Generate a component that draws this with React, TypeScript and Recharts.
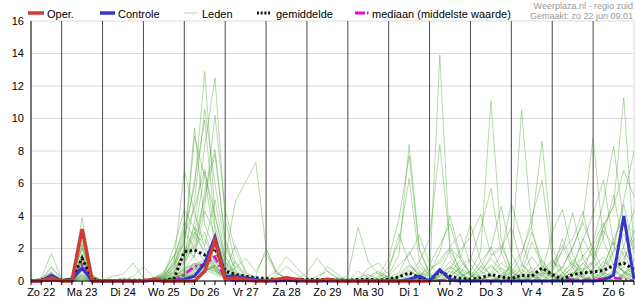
import { ComposedChart, Line, XAxis, YAxis, CartesianGrid, ReferenceLine } from 'recharts';

// x = step index, one step = 6 hours, step 0 = Zo 22 06:00
const dayLabels = ['Zo 22', 'Ma 23', 'Di 24', 'Wo 25', 'Do 26', 'Vr 27', 'Za 28', 'Zo 29', 'Ma 30', 'Di 1', 'Wo 2', 'Do 3', 'Vr 4', 'Za 5', 'Zo 6'];
const noonSteps = [1, 5, 9, 13, 17, 21, 25, 29, 33, 37, 41, 45, 49, 53, 57];
const dayStarts = [3, 7, 11, 15, 19, 23, 27, 31, 35, 39, 43, 47, 51, 55];
const allSteps = [0, 1, 2, 3, 4, 5, 6, 7, 8, 9, 10, 11, 12, 13, 14, 15, 16, 17, 18, 19, 20, 21, 22, 23, 24, 25, 26, 27, 28, 29, 30, 31, 32, 33, 34, 35, 36, 37, 38, 39, 40, 41, 42, 43, 44, 45, 46, 47, 48, 49, 50, 51, 52, 53, 54, 55, 56, 57, 58, 59];
const yTicks = [0, 2, 4, 6, 8, 10, 12, 14, 16];

// mm per 6h; groups: Zo22(3) | Ma23 | Di24 | Wo25 | Do26 | Vr27 | Za28 | Zo29 | Ma30 | Di1 | Wo2 | Do3 | Vr4 | Za5 | Zo6 | end
const oper = [0, 0, 0.2, 0, 0, 3.2, 0, 0, 0, 0, 0, 0, 0.1, 0, 0, 0, 0, 0.6, 2.5, 0.1, 0.2, 0.1, 0, 0, 0.1, 0.2, 0.1, 0, 0, 0.1, 0, 0, 0, 0, 0, 0, 0, 0, 0, 0];
const control = [0, 0, 0.35, 0, 0.1, 0.8, 0, 0, 0, 0, 0, 0, 0.05, 0, 0, 0.1, 0.3, 1.1, 2.7, 0.3, 0.3, 0.2, 0.1, 0, 0, 0.1, 0, 0, 0, 0, 0, 0, 0, 0, 0, 0, 0, 0.1, 0.3, 0, 0.7, 0.1, 0, 0, 0, 0, 0, 0, 0, 0, 0, 0, 0, 0, 0, 0, 0.05, 0.35, 4.0, 0.1];
const mean = [0, 0.05, 0.25, 0.05, 0.1, 1.4, 0.1, 0, 0, 0.05, 0.05, 0.05, 0.05, 0.05, 0.15, 1.8, 1.9, 1.6, 2.0, 0.6, 0.4, 0.3, 0.2, 0.15, 0.1, 0.1, 0.1, 0.1, 0.1, 0.1, 0.05, 0.05, 0.1, 0.1, 0.05, 0.1, 0.25, 0.5, 0.2, 0.05, 0.6, 0.3, 0.15, 0.1, 0.2, 0.4, 0.25, 0.15, 0.35, 0.3, 0.8, 0.4, 0.1, 0.4, 0.5, 0.55, 0.65, 0.95, 1.1, 0.7];
const median = [0, 0, 0.1, 0, 0, 1.0, 0, 0, 0, 0, 0, 0, 0, 0, 0, 0.4, 0.9, 1.0, 1.5, 0.1, 0, 0, 0, 0, 0, 0, 0, 0, 0, 0, 0, 0, 0, 0, 0, 0, 0, 0, 0, 0, 0.05, 0, 0, 0, 0, 0, 0, 0, 0, 0, 0, 0, 0.1, 0.1, 0.05, 0.1, 0.15, 0.2, 0.1, 0];

const m01 = [0, 0.2, 1.7, 0.1, 0.2, 3.9, 0.3, 0, 0, 0, 0, 0, 0.1, 0.6, 1.5, 3.2, 5.8, 12.9, 4.1, 1.2, 0.4, 0.1, 0, 0, 0.1, 0, 0, 0, 0, 0.2, 0, 0, 0, 0, 0.1, 0.2, 0.5, 1.8, 0.6, 0.3, 13.9, 1.6, 0.4, 0.2, 0.8, 2.1, 0.7, 0.2, 0.1, 0.5, 1.3, 0.4, 0.2, 0.9, 2.6, 1.4, 3.1, 2.2, 4.7, 1.9];
const m02 = [0, 0.1, 0.9, 0, 0.3, 2.5, 0.2, 0, 0, 0, 0, 0, 0, 0.2, 0.8, 2.4, 9.4, 3.5, 1.8, 0.6, 0.2, 0.1, 0, 0.2, 0.6, 1.5, 0.8, 0.2, 0, 0, 0, 0, 0, 0, 0, 0, 0, 0.3, 0.9, 0.4, 0, 0, 0.3, 0.6, 1.8, 11.1, 2.6, 0.5, 0, 0, 0, 0, 0, 0.2, 0.7, 1.2, 0.4, 0, 0, 0];
const m03 = [0, 0.1, 0.8, 0.2, 0.1, 2.3, 0.1, 0, 0, 0, 0, 0, 0.1, 0.3, 1.2, 6.8, 4.2, 2.1, 0.9, 0.3, 0.1, 0, 0, 0, 0, 0, 0, 0, 0, 0.1, 0.2, 0.1, 0, 0, 0, 0.4, 1.6, 8.4, 2.0, 0.5, 0, 0, 0, 0, 0, 0.4, 1.1, 0.6, 0, 0, 0, 0, 0, 0, 0.3, 0.8, 1.5, 0.6, 0.2, 0];
const m04 = [0, 0, 0.6, 0, 0.1, 2.2, 0.2, 0, 0, 0, 0, 0, 0, 0.1, 0.5, 1.9, 8.9, 6.4, 2.2, 0.8, 0.3, 0.1, 0, 0, 0, 0, 0, 0, 0, 0, 0.1, 0.3, 3.3, 1.2, 0.4, 0.1, 0, 0, 0, 0, 0.3, 0.8, 0.2, 0, 0, 0, 0, 0, 0.4, 1.5, 0.6, 0.2, 0.9, 2.0, 3.8, 8.8, 2.5, 1.0, 0.6, 0.3];
const m05 = [0, 0.1, 0.5, 0, 0.2, 2.0, 0.1, 0, 0, 0, 0, 0, 0, 0, 0.3, 1.1, 3.6, 8.3, 12.5, 3.8, 1.1, 0.3, 0.1, 0, 0, 0.2, 0.1, 0, 0, 0, 0, 0, 0, 0, 0, 0, 0.2, 0.6, 0.3, 1.0, 2.2, 3.5, 1.4, 0.3, 0, 0, 0, 0, 0, 0, 0.2, 0.5, 0.3, 0, 0, 0, 0.4, 1.8, 2.9, 1.2];
const m06 = [0, 0, 0.4, 0.1, 0, 1.7, 0.3, 0, 0, 0, 0, 0, 0.1, 0.2, 0.9, 2.8, 4.5, 6.9, 3.1, 0.9, 0.2, 0, 0.3, 2.0, 0.5, 0.1, 0, 0, 0, 0, 0, 0, 0, 0.2, 0.5, 0.2, 0, 0, 0, 0, 0, 0.2, 0.9, 1.4, 0.6, 0.2, 0, 1.2, 10.5, 3.2, 0.8, 0.2, 0, 0, 0, 0, 0, 0.3, 0.9, 0.4];
const m07 = [0, 0.1, 0.3, 0.1, 0.1, 1.5, 0.2, 0, 0, 0, 0, 0, 0, 0, 0.2, 0.9, 2.6, 5.1, 7.8, 2.4, 0.6, 0.2, 0, 0, 0, 0, 0.2, 0.1, 0, 0, 0, 0, 0, 0, 0, 0, 0, 0.2, 0.1, 0, 0.6, 1.9, 0.7, 0.3, 1.2, 2.0, 4.6, 1.7, 0.4, 0, 0, 0, 0, 0.4, 1.1, 0.5, 0.2, 0, 0, 0];
const m08 = [0, 0, 0.3, 0, 0.2, 1.4, 0.1, 0, 0, 0, 0, 0, 0.2, 0.4, 2.1, 4.4, 3.2, 1.6, 0.7, 0.2, 0.1, 0, 0, 0, 0, 0, 0, 0, 0, 0, 0, 0, 0, 0, 0.2, 0.6, 2.9, 1.1, 0.3, 0, 0, 0, 0, 0, 0.5, 1.4, 0.6, 0, 0, 0, 0.3, 1.0, 2.2, 0.8, 0.2, 0, 0, 0.6, 1.4, 2.6];
const m09 = [0, 0.1, 0.2, 0, 0, 1.4, 0.2, 0, 0, 0, 0, 0, 0, 0.1, 0.6, 1.4, 2.2, 4.6, 10.2, 4.4, 1.8, 0.5, 0.2, 0, 0, 0, 0.1, 0.5, 1.4, 0.6, 0.1, 0, 0, 0, 0, 0, 0, 0, 0, 0.2, 0.7, 0.3, 0, 0, 0, 0, 0.4, 0.9, 1.8, 3.4, 8.6, 2.1, 0.5, 0, 0, 0, 0, 0, 0.3, 0.8];
const m10 = [0, 0, 0.2, 0, 0.1, 1.3, 0, 0, 0, 0, 0, 0, 0, 0, 0.2, 0.5, 1.1, 0.8, 0.5, 0.2, 0, 0, 0, 0, 0, 0, 0, 0, 0, 0, 0, 0, 0, 0, 0, 0, 0.3, 0.7, 0.2, 0, 0, 0, 0, 0.2, 0.6, 1.5, 2.0, 3.3, 1.1, 0.3, 0, 0, 0, 0, 0, 0.4, 0.9, 2.4, 1.6, 0.5];
const m11 = [0, 0, 0.1, 0, 0, 1.2, 0.1, 0, 0, 0, 0, 0, 0.1, 0.3, 1.0, 3.1, 2.0, 1.2, 2.5, 1.4, 4.9, 6.1, 7.3, 2.0, 0.6, 0.1, 0, 0, 0, 0, 0, 0, 0, 0, 0, 0, 0, 0, 0, 0, 0, 0.4, 1.3, 0.5, 0, 0, 0, 0, 0, 0, 0, 0.3, 0.8, 0.2, 0, 0, 0.7, 1.9, 5.0, 8.0];
const m12 = [0, 0.1, 0.1, 0, 0, 1.0, 0.2, 0, 0, 0, 0, 0, 0, 0, 0.1, 0.3, 0.9, 1.2, 2.4, 1.1, 0.3, 0.1, 0, 0, 0, 0, 0, 0, 0, 0, 0, 0, 0, 0, 0.1, 0.3, 1.0, 1.6, 2.8, 1.1, 0.2, 0, 0, 0, 0, 0, 0, 0.4, 1.0, 0.5, 0, 0, 0, 0, 0, 0.2, 0.5, 0.3, 0, 0];
const m13 = [0, 0, 0, 0, 0.1, 1.0, 0, 0, 0, 0, 0, 0, 0.2, 0.5, 1.6, 2.2, 1.4, 0.8, 2.6, 0.9, 0.3, 0, 0, 0, 0, 0, 0, 0, 0, 0.9, 0.4, 0, 0, 0, 0, 0, 0, 0, 0, 0, 0.5, 1.2, 0.6, 0, 0, 0, 0, 0, 0.2, 0.6, 0.3, 0.8, 1.9, 2.6, 4.3, 1.5, 0.4, 0, 0, 0];
const m14 = [0, 0, 0.1, 0, 0.2, 0.9, 0.1, 0, 0, 0, 0, 0, 0, 0, 0.1, 0.2, 0.5, 0.9, 1.2, 0.6, 0.2, 0, 0, 0, 0, 0, 0, 0, 0, 0, 0, 0, 0, 0, 0, 0, 0, 0.4, 1.2, 2.6, 8.4, 2.2, 0.5, 0, 0, 0, 0.3, 0.8, 0.3, 0, 0, 0, 0.4, 1.3, 0.6, 0, 0, 0, 0.2, 0.6];
const m15 = [0, 0, 0, 0, 0, 0.8, 0.1, 0, 0, 0, 0, 0, 0, 0.1, 0.3, 0.8, 1.0, 0.7, 0.4, 0.1, 0, 0, 0, 0, 0, 0, 0, 0, 0, 0, 0, 0, 0, 0.8, 1.1, 0.4, 0, 0, 0, 0, 0, 0.7, 1.9, 2.7, 4.1, 1.6, 2.2, 0.7, 0, 0, 0, 0, 0, 0, 0, 0.3, 1.2, 0.8, 0, 0];
const m16 = [0, 0, 0, 0, 0.1, 0.7, 0, 0, 0, 0, 0, 0, 0, 0, 0.1, 0.2, 0.4, 0.6, 0.9, 0.3, 0, 0, 0, 0, 0.1, 0.3, 0.1, 0, 0, 0, 0, 0, 0, 0, 0, 0, 0, 0, 0, 0, 0, 0, 0.2, 0.6, 0.2, 0, 0, 0, 0.5, 2.4, 1.0, 0.3, 0, 0, 0.6, 2.2, 3.6, 1.4, 0.5, 0.2];
const m17 = [0, 0, 0.1, 0, 0, 0.6, 0.2, 0, 0, 0, 0, 0, 0, 0, 0.2, 0.5, 0.9, 1.1, 0.7, 0.2, 0, 0, 0, 0, 0, 0, 0, 0, 0, 0, 0, 0, 0, 0, 0.3, 1.4, 3.8, 7.7, 1.9, 0.4, 0, 0, 0, 0, 0, 0.3, 0.8, 0.4, 0, 0, 0, 0, 0, 0, 0, 0, 0, 0.5, 1.8, 1.0];
const m18 = [0, 0, 0, 0, 0, 0.5, 0, 0, 0, 0, 0, 0, 0, 0, 0.1, 0.3, 0.7, 1.1, 1.5, 0.4, 0.1, 0, 0, 0, 0, 0, 0, 0, 0, 0, 0, 0, 0, 0, 0, 0, 0, 0, 0, 0, 0.4, 0.9, 0.4, 0, 0, 0, 0, 0, 0, 0.2, 0.6, 1.3, 0.5, 0, 0.4, 1.1, 2.7, 5.3, 2.0, 0.7];
const m19 = [0, 0, 0, 0, 0, 0.4, 0, 0, 0, 0, 0, 0, 0.1, 0.3, 1.1, 2.5, 6.2, 9.9, 3.4, 1.2, 0.4, 0.1, 0, 0, 0, 0, 0, 0, 0, 0, 0, 0, 0, 0, 0, 0, 0, 0, 0.2, 0.6, 1.3, 2.1, 2.9, 1.0, 0.2, 0, 0, 0, 0.9, 3.0, 1.2, 0.3, 0, 0, 0, 0, 0, 0, 0, 0];
const m20 = [0, 0, 0.1, 0, 0.1, 1.1, 0.1, 0, 0, 0, 0, 0, 0, 0, 0.2, 0.4, 0.8, 1.1, 1.6, 0.5, 0.1, 0, 0, 0, 0, 0, 0, 0, 0, 0, 0, 0, 0.6, 0.2, 0, 0, 0, 0, 0, 0, 0, 0, 0, 0, 0.3, 0.9, 0.4, 0, 0, 0, 0.5, 3.0, 4.4, 1.6, 0.3, 0, 0, 0.4, 1.2, 3.1];
const m21 = [0, 0.1, 0, 0, 0.2, 1.5, 0.3, 0, 0, 0, 0, 0, 0, 0.1, 0.3, 0.7, 1.1, 0.9, 1.4, 0.6, 2.2, 0.6, 0.1, 0, 0, 0, 0, 0, 0, 0, 0, 0, 0, 0, 0, 0, 0.3, 0.9, 0.4, 0, 0, 0, 0, 0, 0, 0, 0.2, 0.5, 1.6, 3.9, 6.2, 1.4, 0.2, 0, 0, 0, 0, 0, 0.5, 0.9];
const m22 = [0, 0, 0, 0, 0, 0.9, 0.1, 0, 0, 0, 0, 0, 0, 0, 0.1, 0.2, 0.5, 0.8, 0.6, 0.3, 0.1, 0, 0, 0, 0, 0, 0, 0, 0, 0, 0, 0, 0, 0, 0.1, 0.9, 2.4, 6.3, 1.2, 0.3, 0, 0, 0, 0, 0, 0, 0, 0, 0, 0, 0, 0, 0.5, 1.1, 0.4, 0, 0.8, 2.6, 3.9, 1.7];
const m23 = [0, 0, 0, 0, 0, 0.3, 0, 0, 0, 0, 0, 0, 0, 0.2, 0.5, 1.3, 2.9, 6.7, 4.0, 1.5, 0.5, 0.2, 0, 0, 0, 0, 0, 0, 0, 0.1, 0, 0, 0, 0, 0, 0, 0, 0, 0, 0, 0.2, 0.6, 0.3, 0, 0, 0, 0, 0, 0, 0.3, 0.9, 0.4, 0, 0.3, 1.5, 2.4, 4.8, 8.3, 3.6, 3.0];
const m24 = [0, 0, 0, 0, 0, 0.2, 0, 0, 0, 0, 0, 0, 0, 0, 0, 0.1, 0.3, 0.6, 1.0, 0.4, 0.1, 0, 0, 0, 0, 0, 0, 0, 0, 0, 0, 0, 0, 0, 0, 0, 0, 0, 0.3, 0.8, 1.1, 2.0, 1.4, 3.5, 1.2, 0.3, 0, 0, 0, 0, 0, 0, 0, 0.7, 1.6, 0.9, 0.3, 0, 0, 0];
const m25 = [0, 0, 0.1, 0, 0, 0.6, 0, 0, 0.3, 0.4, 1.1, 0.2, 0, 0, 0.1, 0.3, 0.6, 1.0, 0.7, 0.2, 0, 0, 0, 0, 0, 0, 0, 0, 0, 0, 0, 0, 0, 0, 0, 0, 0, 0, 0, 0.5, 1.8, 4.0, 1.6, 0.4, 0, 0, 0, 0, 0.3, 0.8, 0.4, 0, 0, 0, 0, 0, 0.4, 1.1, 0.6, 0.2];
const m26 = [0, 0, 0, 0, 0, 0.7, 0, 0, 0, 0, 0.3, 0.9, 0.2, 0.2, 0.6, 1.5, 4.9, 10.6, 6.0, 2.1, 0.7, 0.2, 0, 0, 0, 0, 0, 0, 0, 0, 0, 0, 0, 0, 0, 0, 0, 0, 0, 0, 0, 0, 0.5, 1.3, 3.2, 5.7, 1.8, 0.3, 0, 0, 0, 0.6, 2.6, 1.0, 0.2, 0, 0, 0, 0, 0.4];
const m27 = [0, 0, 0, 0, 0, 0.4, 0, 0, 0, 0.2, 0, 0, 0, 0, 0.2, 0.4, 0.8, 0.6, 0.9, 0.3, 1.2, 0.4, 0.1, 0, 0, 0.2, 0, 0, 0, 0, 0, 0, 0, 0, 0, 0, 0, 0, 0, 0, 0, 0, 0, 0, 0.4, 1.0, 0.3, 0, 0, 0, 0, 0.5, 1.9, 4.2, 1.4, 0.3, 0, 0, 0.4, 1.3];
const m28 = [0, 0, 0, 0, 0.1, 0.3, 0, 0, 0, 0, 0, 0, 0, 0.1, 0.2, 0.6, 1.0, 1.3, 0.8, 0.3, 0, 0, 0, 0, 0, 0, 0, 0, 0, 0, 0, 0, 0, 0, 0, 0, 0, 0.2, 0.5, 0.2, 0, 0, 0, 0, 0, 0.5, 1.7, 4.8, 2.5, 0.6, 0, 0, 0, 0, 0, 0, 0, 0.6, 2.1, 4.4];
const m29 = [0, 0, 0, 0, 0, 0.1, 0, 0, 0, 0, 0, 0, 0, 0, 0.1, 0.3, 0.4, 0.7, 1.0, 0.2, 0, 0, 0, 0, 0, 0, 0, 0, 0, 0, 0, 0, 0, 0, 0, 0, 0.4, 1.0, 0.5, 0, 0, 0, 0, 0, 0, 0, 0, 0, 0, 0, 0.4, 1.2, 0.8, 2.1, 3.6, 2.0, 0.6, 0, 0, 0];
const m30 = [0, 0, 0.1, 0, 0, 0.2, 0, 0, 0, 0, 0, 0, 0.1, 0.4, 1.3, 3.6, 2.7, 1.9, 0.8, 0.3, 0.1, 0, 0, 0, 0, 0, 0, 0, 0, 0, 0, 0, 0, 0, 0, 0, 0, 0, 0, 0, 0, 0.3, 0.8, 0.4, 0, 0, 0, 0, 0, 0, 0, 0, 0.3, 0.9, 2.5, 4.1, 6.2, 2.3, 0.5, 0];
const m31 = [0, 0, 0, 0, 0, 0.2, 0, 0, 0, 0, 0, 0, 0, 0, 0.2, 0.7, 1.6, 5.5, 8.1, 2.6, 0.9, 0.3, 0.1, 0, 0, 0, 0, 0, 0, 0, 0, 0, 0, 0, 0, 0, 0, 0, 0, 0, 0, 0, 0, 0, 0, 0, 0.2, 0.6, 0.2, 0, 0, 0, 0, 0.4, 1.1, 1.8, 3.3, 4.6, 11.3, 2.0];
const m32 = [0, 0, 0, 0, 0, 0.1, 0, 0, 0, 0, 0, 0, 0, 0, 0.2, 0.4, 0.7, 0.9, 0.6, 0.2, 0, 0, 0, 0, 0, 0, 0, 0, 0, 0, 0, 0, 0, 0, 0, 0, 0, 0, 0, 0, 0.3, 0.9, 0.5, 0, 0, 0, 0, 0, 0, 0.2, 0.5, 0.3, 0, 0, 0.6, 1.2, 3.4, 4.6, 6.8, 5.2];
const m33 = [0, 0.1, 0.2, 0, 0.1, 1.4, 0.1, 0, 0, 0, 0, 0, 0, 0.2, 0.7, 1.8, 3.3, 2.6, 1.2, 0.5, 0.8, 1.4, 0.6, 1.7, 0.5, 0.2, 0, 0, 0.3, 0.6, 0.2, 0, 0, 0, 0, 0, 0, 0, 0, 0, 0, 0, 0, 0.2, 0.9, 0.4, 0, 0, 0, 0, 0, 0, 0, 0, 0, 0, 0, 0, 0.4, 0.9];
const m34 = [0, 0, 0.3, 0, 0, 1.6, 0.2, 0, 0, 0, 0, 0, 0.1, 0.4, 1.0, 2.0, 1.5, 4.3, 2.9, 0.7, 0.2, 0, 0, 0, 0.3, 0.9, 0.4, 0, 0, 0, 0, 0, 0.2, 0.4, 0.1, 0, 0, 0, 0, 0, 0, 0, 0, 0, 0, 0, 0, 0.2, 0.7, 0.3, 0, 0, 0, 0, 0, 0, 0.2, 0.7, 0.3, 0];
const m35 = [0, 0, 0, 0, 0.1, 0.8, 0, 0, 0, 0, 0, 0, 0, 0.1, 0.4, 1.2, 2.1, 3.0, 1.1, 0.4, 0.1, 0, 0, 0, 0, 0, 0, 0, 0, 0, 0, 0, 0, 0.3, 0.6, 0.2, 0, 0, 0, 0, 0.4, 0.2, 0, 0, 0, 0, 0, 0, 0, 0, 0, 0, 0.2, 0.5, 0.2, 0, 0, 0, 0, 0];
const m36 = [0, 0.2, 0.5, 0, 0.2, 2.0, 0.4, 0, 0, 0, 0, 0, 0, 0.3, 0.8, 1.6, 3.0, 2.2, 5.0, 1.5, 0.4, 0.1, 0, 0, 0, 0, 0, 0, 0, 0, 0, 0, 0, 0, 0, 0, 0, 0, 0, 0, 0, 0, 0, 0, 0, 0, 0, 0, 0, 0, 0, 0, 0.2, 0.5, 0.8, 0.3, 0, 0, 0];

const members = [m01, m02, m03, m04, m05, m06, m07, m08, m09, m10, m11, m12, m13, m14, m15, m16, m17, m18, m19, m20, m21, m22, m23, m24, m25, m26, m27, m28, m29, m30, m31, m32, m33, m34, m35, m36];

const RED = '#d23a36';
const BLUE = '#3535cc';
const GREEN = '#3f9c26';
const MAGENTA = '#dd11dd';
const FONT = '"Liberation Sans", Arial, sans-serif';

const rows = allSteps.map((t) => {
  const r: Record<string, number | null> = {
    t,
    oper: t < oper.length ? oper[t] : null,
    ctrl: control[t],
    mean: mean[t],
    median: median[t],
  };
  members.forEach((m, k) => {
    r['m' + k] = m[t];
  });
  return r;
});

const dayTick = (v: number) => {
  const k = noonSteps.indexOf(v);
  return k >= 0 ? dayLabels[k] : '';
};

const Header = () => (
  <svg width={635} height={21} style={{ position: 'absolute', left: 0, top: 0, fontFamily: FONT }}>
    <line x1={28} x2={44} y1={13} y2={13} stroke={RED} strokeWidth={3.5} />
    <text x={47} y={17.5} fontSize={11} fill="#000">Oper.</text>
    <line x1={100} x2={115} y1={13} y2={13} stroke={BLUE} strokeWidth={3.5} />
    <text x={118} y={17.5} fontSize={11} fill="#000">Controle</text>
    <line x1={184} x2={197} y1={13} y2={13} stroke={GREEN} strokeOpacity={0.4} strokeWidth={1} />
    <text x={202} y={17.5} fontSize={11} fill="#000">Leden</text>
    <line x1={257} x2={270} y1={13} y2={13} stroke="#111" strokeWidth={3} strokeDasharray="2 1.7" />
    <text x={276} y={17.5} fontSize={11} fill="#000">gemiddelde</text>
    <line x1={355} x2={369} y1={13} y2={13} stroke={MAGENTA} strokeWidth={3} strokeDasharray="10 2 1.5 2" />
    <text x={372} y={17.5} fontSize={11} fill="#000">mediaan (middelste waarde)</text>
    <text x={633} y={8.5} fontSize={9} fill="#9a9a9a" textAnchor="end">Weerplaza.nl - regio zuid</text>
    <text x={633} y={19} fontSize={9} fill="#9a9a9a" textAnchor="end">Gemaakt: zo 22 jun 09:01</text>
  </svg>
);

export default function App() {
  return (
    <div style={{ position: 'absolute', left: 0, top: 0, width: 635, height: 300, background: '#fff', fontFamily: FONT }}>
      <ComposedChart width={635} height={300} data={rows} margin={{ top: 21, right: 1, bottom: 0, left: 0 }}>
        <CartesianGrid xAxisId="top" stroke="#dcdcdc" strokeWidth={1} />
        <XAxis
          dataKey="t"
          type="number"
          domain={[0, 59]}
          ticks={allSteps}
          interval={0}
          tickFormatter={dayTick}
          height={19}
          tickSize={4}
          tickMargin={3}
          stroke="#000"
          tick={{ fill: '#000', fontSize: 11 }}
        />
        <XAxis
          xAxisId="top"
          dataKey="t"
          type="number"
          orientation="top"
          domain={[0, 59]}
          ticks={allSteps}
          interval={0}
          height={0}
          mirror
          tick={false}
          tickSize={3}
          stroke="#000"
        />
        <YAxis
          type="number"
          domain={[0, 16]}
          ticks={yTicks}
          interval={0}
          width={31}
          tickLine={false}
          tickSize={0}
          tickMargin={7}
          stroke="#000"
          tick={{ fill: '#000', fontSize: 11 }}
        />
        <YAxis yAxisId="r" orientation="right" domain={[0, 16]} width={0} tick={false} tickLine={false} stroke="#000" />
        {dayStarts.map((d) => (
          <ReferenceLine key={d} x={d} stroke="#4a4a4a" strokeWidth={1} />
        ))}
        {members.map((_, k) => (
          <Line
            key={k}
            dataKey={'m' + k}
            type="linear"
            stroke={GREEN}
            strokeOpacity={0.38}
            strokeWidth={1}
            dot={false}
            activeDot={false}
            isAnimationActive={false}
          />
        ))}
        <Line dataKey="median" type="linear" stroke={MAGENTA} strokeWidth={2.5} strokeDasharray="8 3 2 3" dot={false} isAnimationActive={false} />
        <Line dataKey="mean" type="linear" stroke="#111" strokeWidth={3} strokeDasharray="2.5 2.5" dot={false} isAnimationActive={false} />
        <Line dataKey="ctrl" type="linear" stroke={BLUE} strokeWidth={3} dot={false} isAnimationActive={false} />
        <Line dataKey="oper" type="linear" stroke={RED} strokeWidth={3.5} dot={false} isAnimationActive={false} />
      </ComposedChart>
      <Header />
    </div>
  );
}
